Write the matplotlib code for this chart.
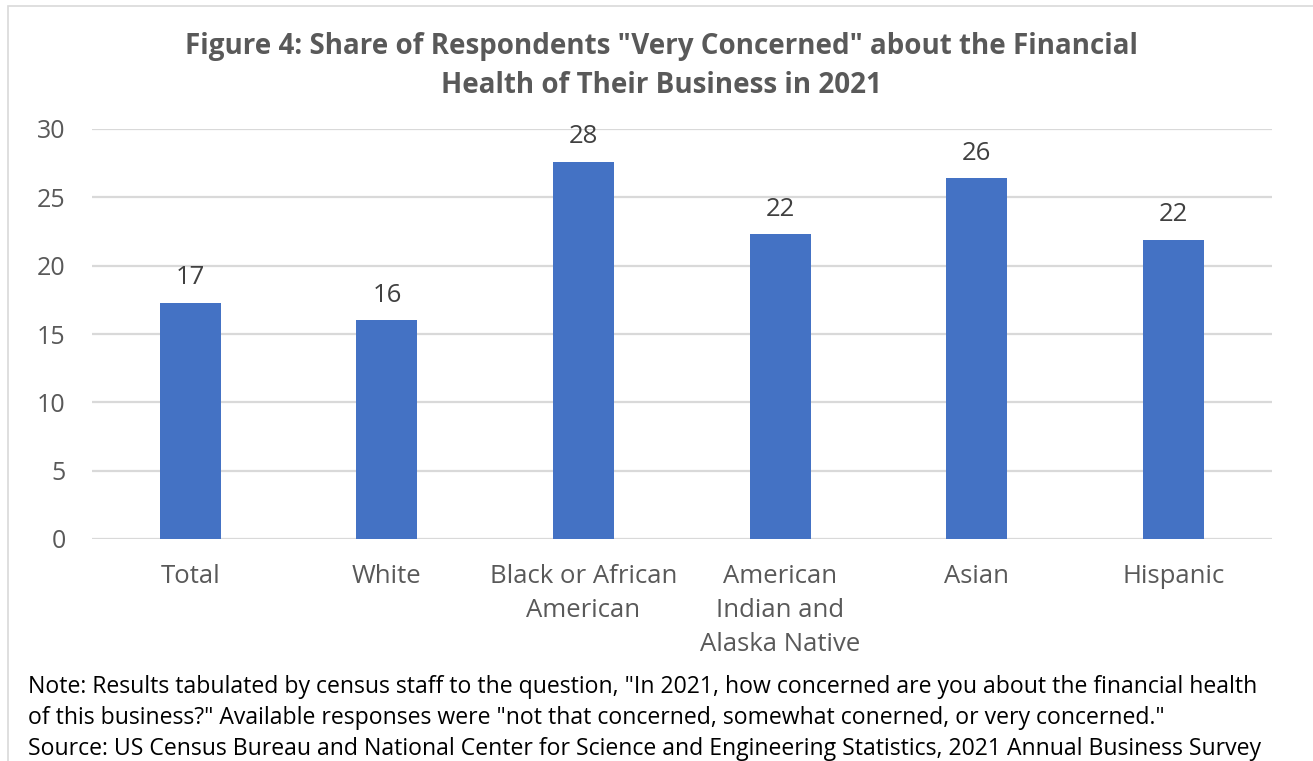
import matplotlib.pyplot as plt
from matplotlib.patches import Rectangle

categories = ["Total", "White", "Black or African\nAmerican",
              "American\nIndian and\nAlaska Native", "Asian", "Hispanic"]
shares = [17.3, 16.0, 27.6, 22.3, 26.4, 21.9]
y_ticks = [0, 5, 10, 15, 20, 25, 30]

title = 'Figure 4: Share of Respondents "Very Concerned" about the Financial\nHealth of Their Business in 2021'
note_lines = [
    'Note: Results tabulated by census staff to the question, "In 2021, how concerned are you about the financial health',
    'of this business?" Available responses were "not that concerned, somewhat conerned, or very concerned."',
    'Source: US Census Bureau and National Center for Science and Engineering Statistics, 2021 Annual Business Survey',
]

plt.rcParams['font.family'] = ['Open Sans', 'DejaVu Sans']

W, H = 1313, 761
fig = plt.figure(figsize=(W / 100, H / 100), dpi=100)
fig.patch.set_facecolor('white')

# chart frame
fig.patches.append(Rectangle((8 / W, -0.05), 1.2, (H - 6) / H + 0.05,
                             transform=fig.transFigure, fill=False,
                             edgecolor='#d9d9d9', linewidth=1.2))

left, right = 92, 1271.6
bottom, top = 539, 129
ax = fig.add_axes([left / W, 1 - bottom / H, (right - left) / W, (bottom - top) / H])

x = list(range(len(categories)))
bars = ax.bar(x, shares, width=0.31, color='#4472C4', zorder=3)
ax.set_xlim(-0.5, len(categories) - 0.5)
ax.set_ylim(0, 30)
ax.set_yticks(y_ticks)
ax.set_xticks(x)
ax.set_xticklabels(categories, fontsize=18.5, color='#595959', linespacing=1.47)
ax.tick_params(axis='y', labelsize=18, labelcolor='#595959', length=0, pad=19)
ax.tick_params(axis='x', length=0, pad=18)
ax.grid(axis='y', color='#d9d9d9', linewidth=1.6, zorder=0)
for s in ax.spines.values():
    s.set_visible(False)

for rect, v in zip(bars, shares):
    ax.annotate(f"{v:.0f}", (rect.get_x() + rect.get_width() / 2, v),
                xytext=(0, 9), textcoords='offset points',
                ha='center', va='bottom', fontsize=18.5, color='#404040')

fig.text(0.5035, 1 - 66 / H, title, ha='center', va='center', fontsize=20,
         fontweight='bold', color='#595959', linespacing=1.45)

for i, line in enumerate(note_lines):
    fig.text(28 / W, 1 - (687 + 31 * i) / H, line, ha='left', va='center',
             fontsize=16.6, color='#000000')

fig.savefig('out.png', dpi=100)
